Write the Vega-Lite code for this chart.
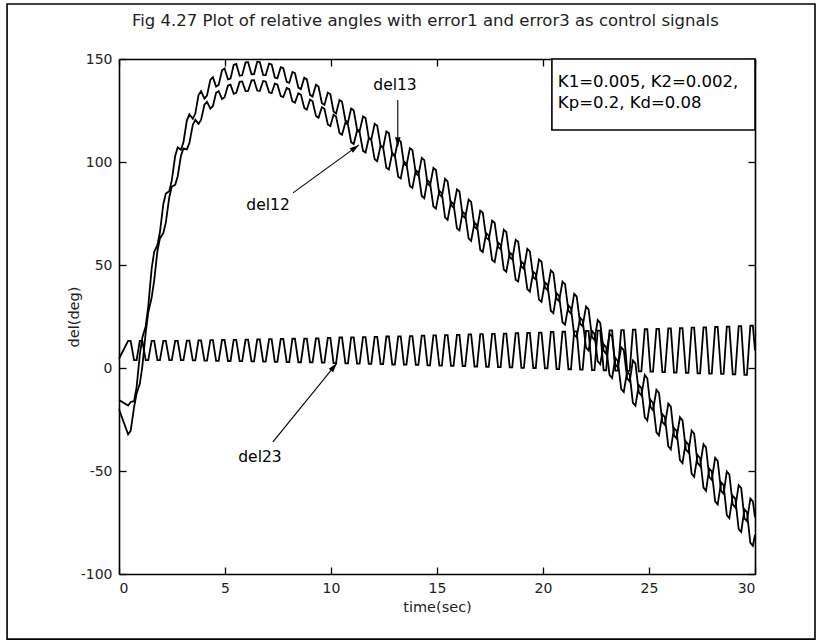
{
  "$schema": "https://vega.github.io/schema/vega-lite/v6.json",
  "width": 636,
  "height": 515,
  "autosize": {"type": "none"},
  "padding": {"left": 119, "top": 59, "right": 66, "bottom": 69},
  "background": "#ffffff",
  "config": {
    "view": {"stroke": null},
    "axis": {
      "grid": false,
      "domainColor": "#000000",
      "domainWidth": 1.6,
      "tickColor": "#000000",
      "tickWidth": 1.3,
      "tickSize": -7,
      "labelFont": "DejaVu Sans",
      "labelFontSize": 14,
      "labelColor": "#222222",
      "labelPadding": 14,
      "labelExpr": "replace(datum.label, '\u2212', '-')",
      "titleFont": "DejaVu Sans",
      "titleFontSize": 14.5,
      "titleFontWeight": "normal",
      "titleColor": "#222222"
    }
  },
  "datasets": {
    "angles": [
      {"t": 0, "del12": -20, "del13": -15.5, "del23": 4.5},
      {"t": 0.43, "del12": -32.2, "del13": -18.2, "del23": 13.2},
      {"t": 0.55, "del12": -30.5, "del13": -16.5, "del23": 13.2},
      {"t": 0.71, "del12": -19.1, "del13": -16.1, "del23": 3.8},
      {"t": 0.83, "del12": -12.4, "del13": -9.4, "del23": 3.8},
      {"t": 0.98, "del12": -7.8, "del13": 6.2, "del23": 13.2},
      {"t": 1.10, "del12": 0.7, "del13": 14.7, "del23": 13.2},
      {"t": 1.26, "del12": 17.3, "del13": 20.3, "del23": 3.8},
      {"t": 1.38, "del12": 26.9, "del13": 29.9, "del23": 3.8},
      {"t": 1.54, "del12": 34.2, "del13": 48.2, "del23": 13.2},
      {"t": 1.66, "del12": 42.4, "del13": 56.4, "del23": 13.2},
      {"t": 1.81, "del12": 56.6, "del13": 59.6, "del23": 3.8},
      {"t": 1.93, "del12": 62.9, "del13": 65.9, "del23": 3.8},
      {"t": 2.09, "del12": 65.5, "del13": 79.5, "del23": 13.2},
      {"t": 2.21, "del12": 70.7, "del13": 84.7, "del23": 13.2},
      {"t": 2.37, "del12": 82.8, "del13": 85.8, "del23": 3.8},
      {"t": 2.49, "del12": 88.1, "del13": 91.1, "del23": 3.8},
      {"t": 2.65, "del12": 88.9, "del13": 102.9, "del23": 13.2},
      {"t": 2.77, "del12": 93.1, "del13": 107.1, "del23": 13.2},
      {"t": 2.92, "del12": 102.9, "del13": 105.9, "del23": 3.8},
      {"t": 3.04, "del12": 106.6, "del13": 109.6, "del23": 3.8},
      {"t": 3.20, "del12": 106.1, "del13": 120.1, "del23": 13.3},
      {"t": 3.32, "del12": 109.2, "del13": 123.2, "del23": 13.3},
      {"t": 3.48, "del12": 118.0, "del13": 121.0, "del23": 3.7},
      {"t": 3.60, "del12": 120.5, "del13": 123.5, "del23": 3.7},
      {"t": 3.75, "del12": 118.5, "del13": 132.5, "del23": 13.4},
      {"t": 3.87, "del12": 120.4, "del13": 134.4, "del23": 13.4},
      {"t": 4.03, "del12": 127.8, "del13": 130.8, "del23": 3.6},
      {"t": 4.15, "del12": 129.2, "del13": 132.2, "del23": 3.6},
      {"t": 4.31, "del12": 125.9, "del13": 139.9, "del23": 13.5},
      {"t": 4.43, "del12": 127.2, "del13": 141.2, "del23": 13.5},
      {"t": 4.58, "del12": 133.6, "del13": 136.6, "del23": 3.5},
      {"t": 4.70, "del12": 134.4, "del13": 137.4, "del23": 3.5},
      {"t": 4.86, "del12": 130.5, "del13": 144.5, "del23": 13.6},
      {"t": 4.98, "del12": 131.4, "del13": 145.4, "del23": 13.6},
      {"t": 5.14, "del12": 137.1, "del13": 140.1, "del23": 3.4},
      {"t": 5.26, "del12": 137.5, "del13": 140.5, "del23": 3.4},
      {"t": 5.41, "del12": 133.1, "del13": 147.1, "del23": 13.7},
      {"t": 5.53, "del12": 133.6, "del13": 147.6, "del23": 13.7},
      {"t": 5.69, "del12": 138.9, "del13": 141.9, "del23": 3.3},
      {"t": 5.81, "del12": 139.1, "del13": 142.1, "del23": 3.3},
      {"t": 5.97, "del12": 134.4, "del13": 148.4, "del23": 13.8},
      {"t": 6.09, "del12": 134.5, "del13": 148.5, "del23": 13.8},
      {"t": 6.25, "del12": 139.6, "del13": 142.6, "del23": 3.2},
      {"t": 6.37, "del12": 139.7, "del13": 142.7, "del23": 3.2},
      {"t": 6.52, "del12": 134.7, "del13": 148.7, "del23": 13.9},
      {"t": 6.64, "del12": 134.5, "del13": 148.5, "del23": 13.9},
      {"t": 6.80, "del12": 139.3, "del13": 142.3, "del23": 3.1},
      {"t": 6.92, "del12": 139.1, "del13": 142.1, "del23": 3.1},
      {"t": 7.08, "del12": 133.8, "del13": 147.8, "del23": 14.0},
      {"t": 7.20, "del12": 133.4, "del13": 147.4, "del23": 14.0},
      {"t": 7.35, "del12": 138.0, "del13": 141.0, "del23": 3.0},
      {"t": 7.47, "del12": 137.6, "del13": 140.6, "del23": 3.0},
      {"t": 7.63, "del12": 132.0, "del13": 146.0, "del23": 14.1},
      {"t": 7.75, "del12": 131.5, "del13": 145.5, "del23": 14.1},
      {"t": 7.91, "del12": 135.9, "del13": 138.9, "del23": 2.9},
      {"t": 8.03, "del12": 135.4, "del13": 138.4, "del23": 2.9},
      {"t": 8.18, "del12": 129.4, "del13": 143.7, "del23": 14.2},
      {"t": 8.30, "del12": 128.8, "del13": 143.1, "del23": 14.2},
      {"t": 8.46, "del12": 133.4, "del13": 136.1, "del23": 2.8},
      {"t": 8.58, "del12": 132.7, "del13": 135.4, "del23": 2.8},
      {"t": 8.74, "del12": 126.2, "del13": 140.9, "del23": 14.3},
      {"t": 8.86, "del12": 125.4, "del13": 140.1, "del23": 14.3},
      {"t": 9.01, "del12": 130.3, "del13": 132.6, "del23": 2.7},
      {"t": 9.13, "del12": 129.5, "del13": 131.8, "del23": 2.7},
      {"t": 9.29, "del12": 122.4, "del13": 137.5, "del23": 14.4},
      {"t": 9.41, "del12": 121.5, "del13": 136.6, "del23": 14.4},
      {"t": 9.57, "del12": 126.6, "del13": 128.5, "del23": 2.6},
      {"t": 9.69, "del12": 125.8, "del13": 127.7, "del23": 2.6},
      {"t": 9.85, "del12": 118.2, "del13": 133.7, "del23": 14.6},
      {"t": 9.97, "del12": 117.4, "del13": 132.9, "del23": 14.6},
      {"t": 10.12, "del12": 123.0, "del13": 124.5, "del23": 2.4},
      {"t": 10.24, "del12": 122.1, "del13": 123.6, "del23": 2.4},
      {"t": 10.40, "del12": 114.1, "del13": 130.1, "del23": 14.8},
      {"t": 10.52, "del12": 113.2, "del13": 129.2, "del23": 14.8},
      {"t": 10.68, "del12": 119.2, "del13": 120.2, "del23": 2.2},
      {"t": 10.80, "del12": 118.2, "del13": 119.2, "del23": 2.2},
      {"t": 10.95, "del12": 109.6, "del13": 126.0, "del23": 14.9},
      {"t": 11.07, "del12": 108.7, "del13": 125.1, "del23": 14.9},
      {"t": 11.23, "del12": 115.2, "del13": 115.8, "del23": 2.1},
      {"t": 11.35, "del12": 114.4, "del13": 115.0, "del23": 2.1},
      {"t": 11.51, "del12": 105.4, "del13": 122.1, "del23": 15.0},
      {"t": 11.63, "del12": 104.6, "del13": 121.3, "del23": 15.0},
      {"t": 11.78, "del12": 111.5, "del13": 111.8, "del23": 2.0},
      {"t": 11.90, "del12": 110.7, "del13": 111.0, "del23": 2.0},
      {"t": 12.06, "del12": 101.3, "del13": 118.5, "del23": 15.1},
      {"t": 12.18, "del12": 100.4, "del13": 117.6, "del23": 15.1},
      {"t": 12.34, "del12": 107.9, "del13": 107.7, "del23": 1.9},
      {"t": 12.46, "del12": 107.1, "del13": 106.9, "del23": 1.9},
      {"t": 12.61, "del12": 97.2, "del13": 114.8, "del23": 15.3},
      {"t": 12.73, "del12": 96.4, "del13": 114.0, "del23": 15.3},
      {"t": 12.89, "del12": 104.3, "del13": 103.7, "del23": 1.7},
      {"t": 13.01, "del12": 103.4, "del13": 102.8, "del23": 1.7},
      {"t": 13.17, "del12": 92.9, "del13": 110.9, "del23": 15.4},
      {"t": 13.29, "del12": 92.0, "del13": 110.0, "del23": 15.4},
      {"t": 13.44, "del12": 100.2, "del13": 99.2, "del23": 1.6},
      {"t": 13.56, "del12": 99.2, "del13": 98.2, "del23": 1.6},
      {"t": 13.72, "del12": 88.3, "del13": 106.7, "del23": 15.5},
      {"t": 13.84, "del12": 87.4, "del13": 105.8, "del23": 15.5},
      {"t": 14.00, "del12": 96.0, "del13": 94.5, "del23": 1.5},
      {"t": 14.12, "del12": 94.9, "del13": 93.4, "del23": 1.5},
      {"t": 14.28, "del12": 83.5, "del13": 102.0, "del23": 15.7},
      {"t": 14.40, "del12": 82.4, "del13": 100.9, "del23": 15.7},
      {"t": 14.55, "del12": 91.1, "del13": 89.6, "del23": 1.3},
      {"t": 14.67, "del12": 90.0, "del13": 88.5, "del23": 1.3},
      {"t": 14.83, "del12": 78.4, "del13": 97.1, "del23": 15.8},
      {"t": 14.95, "del12": 77.4, "del13": 96.1, "del23": 15.8},
      {"t": 15.11, "del12": 86.0, "del13": 84.3, "del23": 1.2},
      {"t": 15.23, "del12": 84.8, "del13": 83.1, "del23": 1.2},
      {"t": 15.38, "del12": 73.1, "del13": 91.8, "del23": 16.0},
      {"t": 15.50, "del12": 71.9, "del13": 90.6, "del23": 16.0},
      {"t": 15.66, "del12": 80.7, "del13": 79.0, "del23": 1.0},
      {"t": 15.78, "del12": 79.6, "del13": 77.9, "del23": 1.0},
      {"t": 15.94, "del12": 67.8, "del13": 86.7, "del23": 16.1},
      {"t": 16.06, "del12": 66.8, "del13": 85.7, "del23": 16.1},
      {"t": 16.21, "del12": 75.8, "del13": 73.9, "del23": 0.9},
      {"t": 16.33, "del12": 74.7, "del13": 72.8, "del23": 0.9},
      {"t": 16.49, "del12": 62.9, "del13": 81.8, "del23": 16.3},
      {"t": 16.61, "del12": 61.7, "del13": 80.6, "del23": 16.3},
      {"t": 16.77, "del12": 70.5, "del13": 68.6, "del23": 0.7},
      {"t": 16.89, "del12": 69.3, "del13": 67.4, "del23": 0.7},
      {"t": 17.04, "del12": 57.3, "del13": 76.4, "del23": 16.4},
      {"t": 17.16, "del12": 56.3, "del13": 75.4, "del23": 16.4},
      {"t": 17.32, "del12": 65.4, "del13": 63.3, "del23": 0.6},
      {"t": 17.44, "del12": 64.3, "del13": 62.2, "del23": 0.6},
      {"t": 17.60, "del12": 52.4, "del13": 71.5, "del23": 16.6},
      {"t": 17.72, "del12": 51.4, "del13": 70.5, "del23": 16.6},
      {"t": 17.88, "del12": 60.8, "del13": 58.7, "del23": 0.4},
      {"t": 18.00, "del12": 59.8, "del13": 57.7, "del23": 0.4},
      {"t": 18.15, "del12": 47.8, "del13": 67.1, "del23": 16.7},
      {"t": 18.27, "del12": 46.7, "del13": 66.0, "del23": 16.7},
      {"t": 18.43, "del12": 56.0, "del13": 53.7, "del23": 0.3},
      {"t": 18.55, "del12": 55.0, "del13": 52.7, "del23": 0.3},
      {"t": 18.71, "del12": 42.9, "del13": 62.2, "del23": 16.9},
      {"t": 18.83, "del12": 42.0, "del13": 61.3, "del23": 16.9},
      {"t": 18.98, "del12": 51.6, "del13": 49.3, "del23": 0.1},
      {"t": 19.10, "del12": 50.5, "del13": 48.2, "del23": 0.1},
      {"t": 19.26, "del12": 38.3, "del13": 57.8, "del23": 17.0},
      {"t": 19.38, "del12": 37.1, "del13": 56.6, "del23": 17.0},
      {"t": 19.54, "del12": 46.6, "del13": 44.1, "del23": 0.0},
      {"t": 19.66, "del12": 45.6, "del13": 43.1, "del23": 0.0},
      {"t": 19.81, "del12": 33.2, "del13": 52.7, "del23": 17.2},
      {"t": 19.93, "del12": 32.1, "del13": 51.6, "del23": 17.2},
      {"t": 20.09, "del12": 41.6, "del13": 39.1, "del23": -0.2},
      {"t": 20.21, "del12": 40.4, "del13": 37.9, "del23": -0.2},
      {"t": 20.37, "del12": 27.8, "del13": 47.4, "del23": 17.5},
      {"t": 20.49, "del12": 26.6, "del13": 46.2, "del23": 17.5},
      {"t": 20.64, "del12": 36.2, "del13": 33.6, "del23": -0.5},
      {"t": 20.76, "del12": 35.0, "del13": 32.4, "del23": -0.5},
      {"t": 20.92, "del12": 22.2, "del13": 41.9, "del23": 17.6},
      {"t": 21.04, "del12": 21.0, "del13": 40.7, "del23": 17.6},
      {"t": 21.20, "del12": 30.4, "del13": 27.7, "del23": -0.6},
      {"t": 21.32, "del12": 29.1, "del13": 26.4, "del23": -0.6},
      {"t": 21.47, "del12": 16.2, "del13": 36.0, "del23": 17.8},
      {"t": 21.59, "del12": 14.9, "del13": 34.7, "del23": 17.8},
      {"t": 21.75, "del12": 24.4, "del13": 21.6, "del23": -0.8},
      {"t": 21.87, "del12": 23.1, "del13": 20.3, "del23": -0.8},
      {"t": 22.03, "del12": 9.9, "del13": 29.8, "del23": 18.0},
      {"t": 22.15, "del12": 8.5, "del13": 28.4, "del23": 18.0},
      {"t": 22.31, "del12": 18.0, "del13": 15.1, "del23": -1.0},
      {"t": 22.43, "del12": 16.5, "del13": 13.6, "del23": -1.0},
      {"t": 22.58, "del12": 3.2, "del13": 23.3, "del23": 18.1},
      {"t": 22.70, "del12": 1.8, "del13": 21.9, "del23": 18.1},
      {"t": 22.86, "del12": 11.5, "del13": 8.4, "del23": -1.1},
      {"t": 22.98, "del12": 10.0, "del13": 6.9, "del23": -1.1},
      {"t": 23.14, "del12": -3.5, "del13": 16.6, "del23": 18.3},
      {"t": 23.26, "del12": -4.9, "del13": 15.2, "del23": 18.3},
      {"t": 23.41, "del12": 4.9, "del13": 1.8, "del23": -1.3},
      {"t": 23.53, "del12": 3.4, "del13": 0.3, "del23": -1.3},
      {"t": 23.69, "del12": -10.2, "del13": 10.1, "del23": 18.4},
      {"t": 23.81, "del12": -11.6, "del13": 8.7, "del23": 18.4},
      {"t": 23.97, "del12": -1.7, "del13": -5.0, "del23": -1.4},
      {"t": 24.09, "del12": -3.2, "del13": -6.5, "del23": -1.4},
      {"t": 24.24, "del12": -16.9, "del13": 3.6, "del23": 18.6},
      {"t": 24.36, "del12": -18.3, "del13": 2.2, "del23": 18.6},
      {"t": 24.52, "del12": -8.3, "del13": -11.8, "del23": -1.6},
      {"t": 24.64, "del12": -9.8, "del13": -13.3, "del23": -1.6},
      {"t": 24.80, "del12": -23.9, "del13": -3.4, "del23": 18.8},
      {"t": 24.92, "del12": -25.5, "del13": -5.0, "del23": 18.8},
      {"t": 25.07, "del12": -15.4, "del13": -18.9, "del23": -1.8},
      {"t": 25.19, "del12": -17.0, "del13": -20.5, "del23": -1.8},
      {"t": 25.35, "del12": -31.2, "del13": -10.6, "del23": 19.0},
      {"t": 25.47, "del12": -32.7, "del13": -12.1, "del23": 19.0},
      {"t": 25.63, "del12": -22.5, "del13": -26.2, "del23": -2.0},
      {"t": 25.75, "del12": -23.9, "del13": -27.6, "del23": -2.0},
      {"t": 25.91, "del12": -38.0, "del13": -17.3, "del23": 19.2},
      {"t": 26.03, "del12": -39.5, "del13": -18.8, "del23": 19.2},
      {"t": 26.18, "del12": -29.1, "del13": -32.8, "del23": -2.2},
      {"t": 26.30, "del12": -30.5, "del13": -34.2, "del23": -2.2},
      {"t": 26.46, "del12": -44.7, "del13": -23.9, "del23": 19.4},
      {"t": 26.58, "del12": -46.2, "del13": -25.4, "del23": 19.4},
      {"t": 26.74, "del12": -35.7, "del13": -39.6, "del23": -2.4},
      {"t": 26.86, "del12": -37.1, "del13": -41.0, "del23": -2.4},
      {"t": 27.01, "del12": -51.3, "del13": -30.4, "del23": 19.6},
      {"t": 27.13, "del12": -52.8, "del13": -31.9, "del23": 19.6},
      {"t": 27.29, "del12": -42.3, "del13": -46.2, "del23": -2.6},
      {"t": 27.41, "del12": -43.7, "del13": -47.6, "del23": -2.6},
      {"t": 27.57, "del12": -58.1, "del13": -37.0, "del23": 19.7},
      {"t": 27.69, "del12": -59.6, "del13": -38.5, "del23": 19.7},
      {"t": 27.84, "del12": -48.8, "del13": -52.9, "del23": -2.7},
      {"t": 27.96, "del12": -50.2, "del13": -54.3, "del23": -2.7},
      {"t": 28.12, "del12": -64.7, "del13": -43.6, "del23": 19.9},
      {"t": 28.24, "del12": -66.2, "del13": -45.1, "del23": 19.9},
      {"t": 28.40, "del12": -55.5, "del13": -59.6, "del23": -2.9},
      {"t": 28.52, "del12": -56.9, "del13": -61.0, "del23": -2.9},
      {"t": 28.67, "del12": -71.4, "del13": -50.2, "del23": 20.1},
      {"t": 28.79, "del12": -72.9, "del13": -51.7, "del23": 20.1},
      {"t": 28.95, "del12": -62.0, "del13": -66.3, "del23": -3.1},
      {"t": 29.07, "del12": -63.4, "del13": -67.7, "del23": -3.1},
      {"t": 29.23, "del12": -78.2, "del13": -56.9, "del23": 20.3},
      {"t": 29.35, "del12": -79.6, "del13": -58.3, "del23": 20.3},
      {"t": 29.50, "del12": -68.6, "del13": -73.0, "del23": -3.3},
      {"t": 29.62, "del12": -70.0, "del13": -74.4, "del23": -3.3},
      {"t": 29.78, "del12": -84.9, "del13": -63.4, "del23": 20.5},
      {"t": 29.90, "del12": -86.3, "del13": -64.8, "del23": 20.5},
      {"t": 30.00, "del12": -81.0, "del13": -72.5, "del23": 8.5}
    ]
  },
  "layer": [
    {
      "data": {"values": [{}]},
      "mark": {"type": "rect", "fillOpacity": 0, "stroke": "#000000", "strokeWidth": 1.6},
      "encoding": {
        "x": {"datum": -5.28, "type": "quantitative", "scale": {"domain": [0, 30], "nice": false, "zero": false}, "axis": null},
        "x2": {"datum": 32.83},
        "y": {"datum": 176.7, "type": "quantitative", "scale": {"domain": [-100, 150], "nice": false, "zero": false}, "axis": null},
        "y2": {"datum": -131.6}
      }
    },
    {
      "data": {"values": [{}]},
      "mark": {"type": "text", "text": "Fig 4.27 Plot of relative angles with error1 and error3 as control signals", "align": "center", "baseline": "middle", "font": "DejaVu Sans", "fontSize": 16.5, "color": "#222222"},
      "encoding": {
        "x": {"datum": 14.45, "type": "quantitative", "axis": null},
        "y": {"datum": 168.4, "type": "quantitative", "axis": null}
      }
    },
    {
      "data": {"name": "angles"},
      "transform": [{"fold": ["del12", "del13", "del23"], "as": ["series", "value"]}],
      "mark": {"type": "line", "color": "#000000", "strokeWidth": 1.8},
      "encoding": {
        "x": {
          "field": "t", "type": "quantitative",
          "scale": {"domain": [0, 30], "nice": false, "zero": false},
          "axis": {"orient": "bottom", "values": [0, 5, 10, 15, 20, 25, 30], "title": "time(sec)", "titlePadding": 5}
        },
        "y": {
          "field": "value", "type": "quantitative",
          "scale": {"domain": [-100, 150], "nice": false, "zero": false},
          "axis": {"orient": "left", "values": [-100, -50, 0, 50, 100, 150], "title": "del(deg)", "titlePadding": -1}
        },
        "detail": {"field": "series"}
      }
    },
    {
      "data": {"values": [{}]},
      "mark": {"type": "point", "opacity": 0},
      "encoding": {
        "x": {
          "datum": 15, "type": "quantitative",
          "scale": {"domain": [0, 30], "nice": false, "zero": false},
          "axis": {"orient": "top", "labels": false, "values": [0, 5, 10, 15, 20, 25, 30], "title": null}
        },
        "y": {
          "datum": 25, "type": "quantitative",
          "scale": {"domain": [-100, 150], "nice": false, "zero": false},
          "axis": {"orient": "right", "labels": false, "values": [-100, -50, 0, 50, 100, 150], "title": null}
        }
      }
    },
    {
      "data": {"values": [{}]},
      "mark": {"type": "rect", "fill": "#ffffff", "stroke": "#000000", "strokeWidth": 1.6},
      "encoding": {
        "x": {"datum": 20.42, "type": "quantitative", "axis": null},
        "x2": {"datum": 30},
        "y": {"datum": 115.5, "type": "quantitative", "axis": null},
        "y2": {"datum": 150}
      }
    },
    {
      "data": {"values": [{}]},
      "mark": {"type": "text", "text": "K1=0.005, K2=0.002,", "align": "left", "baseline": "middle", "font": "DejaVu Sans", "fontSize": 16.5, "color": "#000000"},
      "encoding": {
        "x": {"datum": 20.7, "type": "quantitative", "axis": null},
        "y": {"datum": 139, "type": "quantitative", "axis": null}
      }
    },
    {
      "data": {"values": [{}]},
      "mark": {"type": "text", "text": "Kp=0.2, Kd=0.08", "align": "left", "baseline": "middle", "font": "DejaVu Sans", "fontSize": 16.5, "color": "#000000"},
      "encoding": {
        "x": {"datum": 20.7, "type": "quantitative", "axis": null},
        "y": {"datum": 128.5, "type": "quantitative", "axis": null}
      }
    },
    {
      "data": {"values": [{}]},
      "mark": {"type": "rule", "color": "#000000", "strokeWidth": 1.1},
      "encoding": {
        "x": {"datum": 13.15, "type": "quantitative", "axis": null},
        "x2": {"datum": 13.15},
        "y": {"datum": 130.1, "type": "quantitative", "axis": null},
        "y2": {"datum": 107.4}
      }
    },
    {
      "data": {"values": [{}]},
      "mark": {"type": "point", "shape": "M0,0L-0.6,2L0.6,2Z", "filled": true, "color": "#000000", "opacity": 1, "size": 90, "angle": 180},
      "encoding": {
        "x": {"datum": 13.15, "type": "quantitative", "axis": null},
        "y": {"datum": 107.4, "type": "quantitative", "axis": null}
      }
    },
    {
      "data": {"values": [{}]},
      "mark": {"type": "text", "text": "del13", "align": "center", "baseline": "middle", "font": "DejaVu Sans", "fontSize": 15.5, "color": "#000000"},
      "encoding": {
        "x": {"datum": 13.02, "type": "quantitative", "axis": null},
        "y": {"datum": 137.4, "type": "quantitative", "axis": null}
      }
    },
    {
      "data": {"values": [{}]},
      "mark": {"type": "rule", "color": "#000000", "strokeWidth": 1.1},
      "encoding": {
        "x": {"datum": 8.21, "type": "quantitative", "axis": null},
        "x2": {"datum": 11.32},
        "y": {"datum": 85.0, "type": "quantitative", "axis": null},
        "y2": {"datum": 108.3}
      }
    },
    {
      "data": {"values": [{}]},
      "mark": {"type": "point", "shape": "M0,0L-0.6,2L0.6,2Z", "filled": true, "color": "#000000", "opacity": 1, "size": 90, "angle": 54},
      "encoding": {
        "x": {"datum": 11.32, "type": "quantitative", "axis": null},
        "y": {"datum": 108.3, "type": "quantitative", "axis": null}
      }
    },
    {
      "data": {"values": [{}]},
      "mark": {"type": "text", "text": "del12", "align": "center", "baseline": "middle", "font": "DejaVu Sans", "fontSize": 15.5, "color": "#000000"},
      "encoding": {
        "x": {"datum": 7.03, "type": "quantitative", "axis": null},
        "y": {"datum": 79.1, "type": "quantitative", "axis": null}
      }
    },
    {
      "data": {"values": [{}]},
      "mark": {"type": "rule", "color": "#000000", "strokeWidth": 1.1},
      "encoding": {
        "x": {"datum": 7.26, "type": "quantitative", "axis": null},
        "x2": {"datum": 10.28},
        "y": {"datum": -35.9, "type": "quantitative", "axis": null},
        "y2": {"datum": 2.4}
      }
    },
    {
      "data": {"values": [{}]},
      "mark": {"type": "point", "shape": "M0,0L-0.6,2L0.6,2Z", "filled": true, "color": "#000000", "opacity": 1, "size": 90, "angle": 39},
      "encoding": {
        "x": {"datum": 10.28, "type": "quantitative", "axis": null},
        "y": {"datum": 2.4, "type": "quantitative", "axis": null}
      }
    },
    {
      "data": {"values": [{}]},
      "mark": {"type": "text", "text": "del23", "align": "center", "baseline": "middle", "font": "DejaVu Sans", "fontSize": 15.5, "color": "#000000"},
      "encoding": {
        "x": {"datum": 6.65, "type": "quantitative", "axis": null},
        "y": {"datum": -43.2, "type": "quantitative", "axis": null}
      }
    }
  ],
  "resolve": {"axis": {"x": "independent", "y": "independent"}}
}
